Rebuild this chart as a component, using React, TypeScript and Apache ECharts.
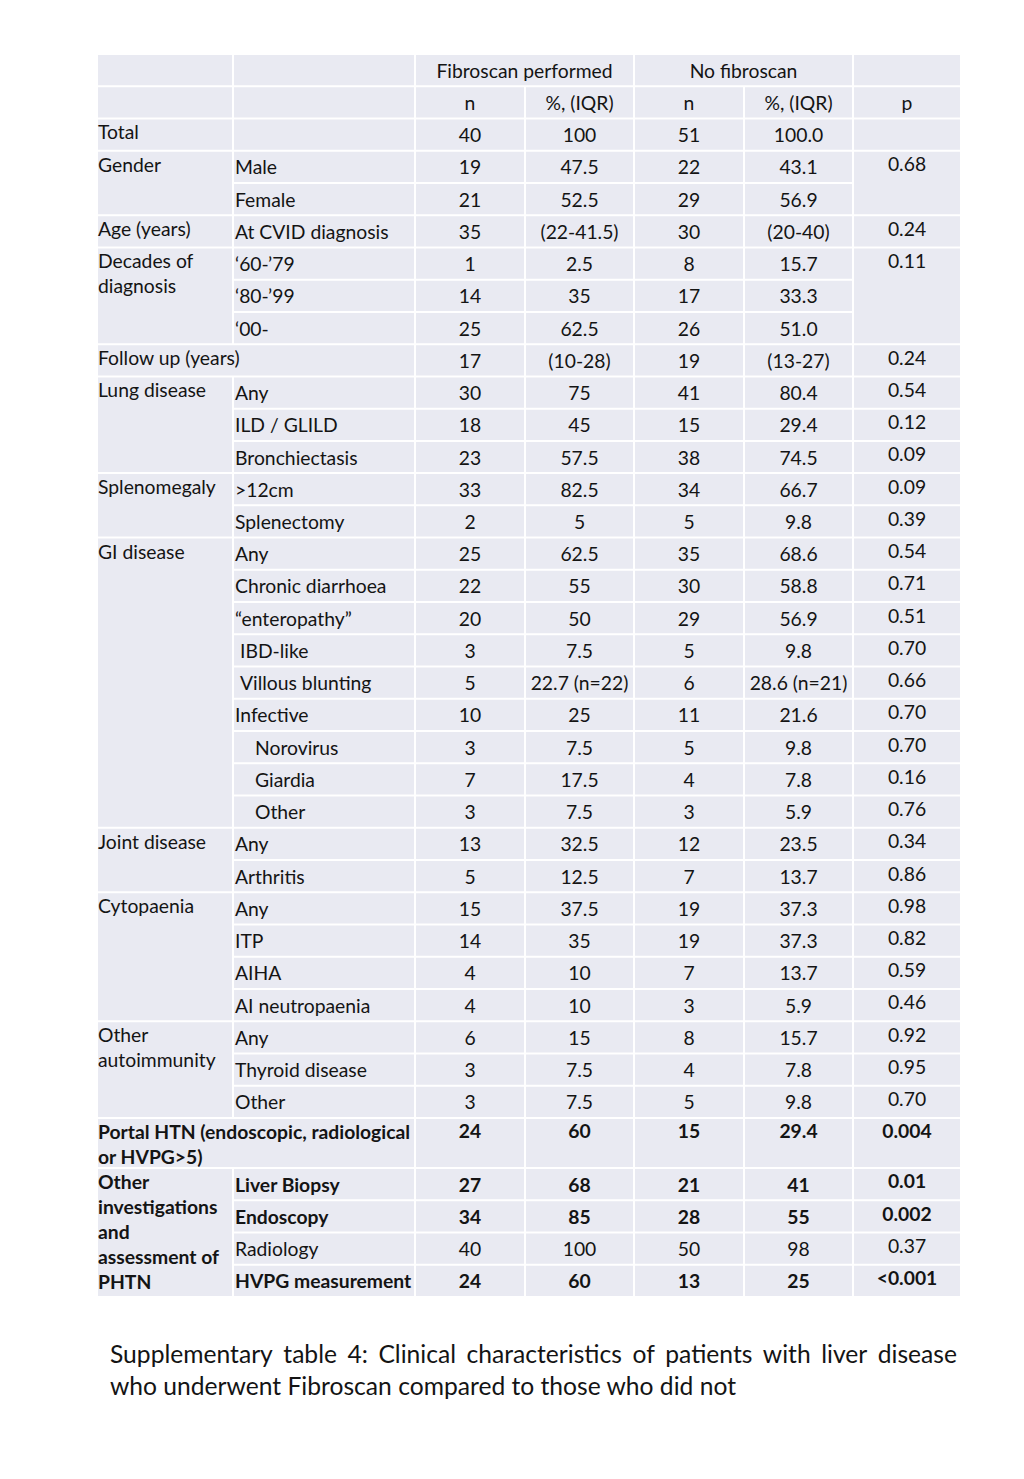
import React, { useEffect, useRef } from "react";
import * as echarts from "echarts";

// ---- Data ----
const headerGroups = ["Fibroscan performed", "No fibroscan"];
const headerSub = ["n", "%, (IQR)", "n", "%, (IQR)", "p"];

const groupLabels = [
  "Total",
  "Gender",
  "Age (years)",
  "Decades of\ndiagnosis",
  "Follow up (years)",
  "Lung disease",
  "Splenomegaly",
  "GI disease",
  "Joint disease",
  "Cytopaenia",
  "Other\nautoimmunity",
  "Portal HTN (endoscopic, radiological\nor HVPG>5)",
  "Other\ninvestigations\nand\nassessment of\nPHTN",
];
const groupSpans = [1, 2, 1, 3, 1, 3, 2, 9, 2, 4, 3, 1, 4];
const groupSpansBothCols = [false, false, false, false, true, false, false, false, false, false, false, true, false];
const groupBold = [false, false, false, false, false, false, false, false, false, false, false, true, true];

const subLabels = [
  "", "Male", "Female", "At CVID diagnosis", "‘60-’79", "‘80-’99", "‘00-", "",
  "Any", "ILD / GLILD", "Bronchiectasis", ">12cm", "Splenectomy",
  "Any", "Chronic diarrhoea", "“enteropathy”", " IBD-like", " Villous blunting", "Infective",
  "    Norovirus", "    Giardia", "    Other",
  "Any", "Arthritis", "Any", "ITP", "AIHA", "AI neutropaenia",
  "Any", "Thyroid disease", "Other", "",
  "Liver Biopsy", "Endoscopy", "Radiology", "HVPG measurement",
];
const fibN = [
  "40", "19", "21", "35", "1", "14", "25", "17", "30", "18", "23", "33", "2",
  "25", "22", "20", "3", "5", "10", "3", "7", "3", "13", "5", "15", "14", "4", "4",
  "6", "3", "3", "24", "27", "34", "40", "24",
];
const fibPct = [
  "100", "47.5", "52.5", "(22-41.5)", "2.5", "35", "62.5", "(10-28)", "75", "45", "57.5", "82.5", "5",
  "62.5", "55", "50", "7.5", "22.7 (n=22)", "25", "7.5", "17.5", "7.5", "32.5", "12.5", "37.5", "35", "10", "10",
  "15", "7.5", "7.5", "60", "68", "85", "100", "60",
];
const noN = [
  "51", "22", "29", "30", "8", "17", "26", "19", "41", "15", "38", "34", "5",
  "35", "30", "29", "5", "6", "11", "5", "4", "3", "12", "7", "19", "19", "7", "3",
  "8", "4", "5", "15", "21", "28", "50", "13",
];
const noPct = [
  "100.0", "43.1", "56.9", "(20-40)", "15.7", "33.3", "51.0", "(13-27)", "80.4", "29.4", "74.5", "66.7", "9.8",
  "68.6", "58.8", "56.9", "9.8", "28.6 (n=21)", "21.6", "9.8", "7.8", "5.9", "23.5", "13.7", "37.3", "37.3", "13.7", "5.9",
  "15.7", "7.8", "9.8", "29.4", "41", "55", "98", "25",
];
const pValues = [
  "", "0.68", "0.24", "0.11", "0.24", "0.54", "0.12", "0.09", "0.09", "0.39",
  "0.54", "0.71", "0.51", "0.70", "0.66", "0.70", "0.70", "0.16", "0.76",
  "0.34", "0.86", "0.98", "0.82", "0.59", "0.46", "0.92", "0.95", "0.70",
  "0.004", "0.01", "0.002", "0.37", "<0.001",
];
const pSpans = [1, 2, 1, 3, 1, 1, 1, 1, 1, 1, 1, 1, 1, 1, 1, 1, 1, 1, 1, 1, 1, 1, 1, 1, 1, 1, 1, 1, 1, 1, 1, 1, 1];
const boldRows = [31, 32, 33, 35];

const captionLine1 = "Supplementary table 4: Clinical characteristics of patients with liver disease";
const captionLine2 = "who underwent Fibroscan compared to those who did not";

// ---- Layout ----
const FONT = "Lato";
const colEdges = [97, 233, 415, 525, 634, 744, 853, 961];
const tableTop = 54;
const rowH = 32.24;
const lineH = 25;
const CELL = "#e9eaf2";
const INK = "#141414";

function measure(text: string, font: string): number {
  const ctx = document.createElement("canvas").getContext("2d")!;
  ctx.font = font;
  return ctx.measureText(text).width;
}

function buildGraphics() {
  const fs1 = (177 / measure("Fibroscan performed", `100px ${FONT}`)) * 100;
  const fs2 = (151 / measure("Chronic diarrhoea", `100px ${FONT}`)) * 100;
  const fs = (fs1 + fs2) / 2;
  const els: any[] = [];

  const rect = (x0: number, x1: number, y0: number, y1: number) =>
    els.push({
      type: "rect",
      shape: { x: x0 + 1, y: y0 + 1, width: x1 - x0 - 2, height: y1 - y0 - 2 },
      style: { fill: CELL },
      silent: true,
    });
  const text = (t: string, x: number, y: number, align: string, vAlign: string, bold: boolean, size = fs) =>
    els.push({
      type: "text",
      x,
      y,
      style: {
        text: t,
        fontFamily: FONT,
        fontSize: size,
        fontWeight: bold ? "bold" : "normal",
        fill: INK,
        align,
        verticalAlign: vAlign,
        lineHeight: lineH,
      },
      silent: true,
    });

  // row geometry for data rows
  const nData = subLabels.length;
  const heights: number[] = [];
  let gi = 0;
  for (let g = 0; g < groupLabels.length; g++) {
    const lines = groupLabels[g].split("\n").length;
    for (let k = 0; k < groupSpans[g]; k++) {
      heights.push(groupSpans[g] === 1 && groupSpansBothCols[g] && lines > 1 ? Math.max(rowH, lines * lineH) : rowH);
      gi++;
    }
  }
  const tops: number[] = [];
  let y = tableTop + 2 * rowH;
  for (let i = 0; i < nData; i++) {
    tops.push(y);
    y += heights[i];
  }
  tops.push(y);

  const cx = (c: number) => (colEdges[c] + colEdges[c + 1]) / 2;

  // header row 1
  const h0 = tableTop, h1 = tableTop + rowH, h2 = tableTop + 2 * rowH;
  rect(colEdges[0], colEdges[1], h0, h1);
  rect(colEdges[1], colEdges[2], h0, h1);
  rect(colEdges[2], colEdges[4], h0, h1);
  rect(colEdges[4], colEdges[6], h0, h1);
  rect(colEdges[6], colEdges[7], h0, h1);
  text(headerGroups[0], (colEdges[2] + colEdges[4]) / 2, (h0 + h1) / 2, "center", "middle", false);
  text(headerGroups[1], (colEdges[4] + colEdges[6]) / 2, (h0 + h1) / 2, "center", "middle", false);
  // header row 2
  rect(colEdges[0], colEdges[1], h1, h2);
  rect(colEdges[1], colEdges[2], h1, h2);
  headerSub.forEach((s, i) => {
    rect(colEdges[i + 2], colEdges[i + 3], h1, h2);
    text(s, cx(i + 2), (h1 + h2) / 2, "center", "middle", false);
  });

  // group column
  let r = 0;
  groupLabels.forEach((lab, g) => {
    const y0 = tops[r], y1 = tops[r + groupSpans[g]];
    const xEnd = groupSpansBothCols[g] ? colEdges[2] : colEdges[1];
    rect(colEdges[0], xEnd, y0, y1);
    text(lab, colEdges[0] + 1, y0 + 1, "left", "top", groupBold[g]);
    r += groupSpans[g];
  });

  // sub label column + values
  let gStart = 0;
  const bothColsRow = new Set<number>();
  groupLabels.forEach((_, g) => {
    if (groupSpansBothCols[g]) for (let k = 0; k < groupSpans[g]; k++) bothColsRow.add(gStart + k);
    gStart += groupSpans[g];
  });
  for (let i = 0; i < nData; i++) {
    const y0 = tops[i], y1 = tops[i + 1];
    const h = y1 - y0;
    const ty = h > 40 ? y0 + 13 : (y0 + y1) / 2;
    const bold = boldRows.includes(i);
    if (!bothColsRow.has(i)) {
      rect(colEdges[1], colEdges[2], y0, y1);
      const lab = subLabels[i];
      const lead = lab.length - lab.trimStart().length;
      text(lab.trimStart(), colEdges[1] + 2 + lead * 5, ty, "left", "middle", bold);
    }
    [fibN, fibPct, noN, noPct].forEach((arr, c) => {
      rect(colEdges[c + 2], colEdges[c + 3], y0, y1);
      text(arr[i], cx(c + 2), ty, "center", "middle", bold);
    });
  }

  // p column
  r = 0;
  pValues.forEach((p, k) => {
    const y0 = tops[r], y1 = tops[r + pSpans[k]];
    rect(colEdges[6], colEdges[7], y0, y1);
    text(p, cx(6), y0 + 13, "center", "middle", boldRows.includes(r));
    r += pSpans[k];
  });

  // caption
  const capFs = (627 / measure(captionLine2, `100px ${FONT}`)) * 100;
  const capFont = `${capFs}px ${FONT}`;
  const words = captionLine1.split(" ");
  const widths = words.map((w) => measure(w, capFont));
  const total = widths.reduce((a, b) => a + b, 0);
  const gap = (957 - 110 - total) / (words.length - 1);
  let wx = 110;
  words.forEach((w, i) => {
    text(w, wx, 1353, "left", "middle", false, capFs);
    wx += widths[i] + gap;
  });
  text(captionLine2, 110, 1385, "left", "middle", false, capFs);

  return els;
}

export default function App() {
  const ref = useRef<HTMLDivElement>(null);
  useEffect(() => {
    if (!ref.current) return;
    const chart = echarts.init(ref.current, null, { renderer: "svg" });
    chart.setOption({
      animation: false,
      backgroundColor: "#ffffff",
      graphic: { elements: buildGraphics() },
    });
    return () => chart.dispose();
  }, []);
  return (
    <div
      ref={ref}
      style={{ position: "absolute", left: 0, top: 0, width: 1024, height: 1479, background: "#fff" }}
    />
  );
}
